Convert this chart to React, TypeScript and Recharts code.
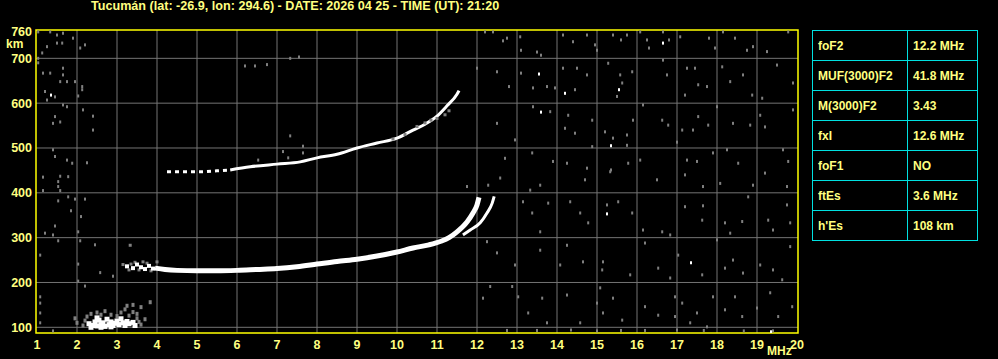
import React from 'react';
import {
  ComposedChart,
  Line,
  Scatter,
  XAxis,
  YAxis,
  CartesianGrid,
  ReferenceArea
} from 'recharts';

const YELLOW = '#ffff80';
const BORDER = '#ffff00';
const CYAN = '#00e0e0';
const GRID = '#747474';
const NOISE = '#808080';
const FONT = '"Liberation Sans", Arial, sans-serif';

// axis ticks
const freqTicks = [1, 2, 3, 4, 5, 6, 7, 8, 9, 10, 11, 12, 13, 14, 15, 16, 17, 18, 19, 20];
const heightTicks = [100, 200, 300, 400, 500, 600, 700, 760];
const gridFreqs = [2, 3, 4, 5, 6, 7, 8, 9, 10, 11, 12, 13, 14, 15, 16, 17, 18, 19];
const gridHeights = [100, 200, 300, 400, 500, 600, 700];

// F2 ordinary trace [MHz, km]
const oTrace = [
  [3.95, 232], [4.2, 229], [4.5, 227], [5.0, 226], [5.5, 226], [6.0, 227],
  [6.5, 229], [7.0, 231], [7.5, 235], [8.0, 241], [8.5, 247], [9.0, 252],
  [9.5, 259], [10.0, 268], [10.4, 277], [10.8, 284], [11.1, 292], [11.3, 300],
  [11.5, 313], [11.75, 335], [11.9, 355], [12.0, 373], [12.05, 390]
];

// F2 extraordinary trace
const xTrace = [
  [11.65, 306], [11.83, 317], [12.08, 333], [12.25, 355], [12.38, 377], [12.43, 392]
];

// second hop 2F
const twoFDotted = [
  [4.25, 447], [4.7, 447], [5.08, 447], [5.5, 449], [5.83, 451]
];
const twoFTrace = [
  [5.83, 451], [6.33, 458], [7.0, 464], [7.58, 469], [8.0, 478], [8.5, 486],
  [9.0, 500], [9.5, 511], [10.0, 522], [10.4, 540], [10.7, 553], [11.0, 571],
  [11.25, 594], [11.5, 620], [11.55, 628]
];
const twoFxGray = [
  [10.5, 548], [10.7, 556], [10.85, 562], [11.0, 566], [11.2, 574], [11.3, 583],
  [9.9, 520], [10.2, 530]
];

// sporadic E and bottom of F
const esWhite = [
  [2.3, 108], [2.4, 104], [2.45, 112], [2.5, 103], [2.55, 116], [2.6, 106],
  [2.65, 110], [2.7, 102], [2.75, 118], [2.8, 106], [2.85, 112], [2.9, 104],
  [2.95, 109], [3.0, 114], [3.05, 106], [3.1, 119], [3.15, 110], [3.2, 104],
  [3.25, 113], [3.3, 108], [3.4, 111], [3.45, 104], [2.35, 100], [2.6, 100],
  [2.85, 101], [2.5, 121]
];
const esGray = [
  [2.2, 115], [2.25, 124], [2.35, 130], [2.5, 133], [2.6, 128], [2.7, 136],
  [2.85, 128], [3.0, 125], [3.1, 133], [3.2, 140], [3.3, 126], [3.4, 134],
  [3.5, 120], [3.55, 112], [3.6, 106], [3.5, 130], [2.0, 110], [1.95, 120],
  [3.25, 148], [3.4, 150], [3.6, 145], [3.83, 156], [3.7, 118], [2.15, 104]
];
const fStartWhite = [
  [3.25, 236], [3.4, 232], [3.5, 240], [3.6, 234], [3.7, 230], [3.8, 237], [3.9, 231]
];
const fStartGray = [
  [3.15, 240], [3.3, 228], [3.45, 245], [3.55, 228], [3.75, 243], [3.85, 226],
  [4.0, 246], [3.35, 241], [3.65, 246], [3.33, 283]
];

// background noise
const noiseGray = [
  [1.03, 759], [1.33, 759], [1.5, 752], [1.65, 756], [1.9, 745], [1.25, 726],
  [1.5, 734], [1.63, 734], [2.2, 730], [2.08, 723], [1.13, 712], [1.15, 667],
  [1.33, 667], [1.65, 678], [1.65, 663], [1.75, 648], [1.58, 648], [1.2, 626],
  [1.45, 614], [1.25, 607], [1.95, 648], [2.13, 637], [2.13, 630], [2.03, 616],
  [1.65, 596], [1.75, 592], [2.15, 585], [2.4, 571], [1.45, 570], [1.4, 555],
  [1.58, 558], [2.4, 540], [1.4, 496], [1.45, 481], [1.75, 473], [1.88, 466],
  [2.25, 467], [1.15, 435], [1.58, 437], [1.53, 425], [1.53, 414], [1.78, 436],
  [1.15, 405], [1.58, 405], [1.78, 391], [1.95, 386], [2.2, 386], [1.53, 382],
  [1.85, 360], [2.1, 347], [1.45, 326], [1.2, 310], [1.4, 306], [2.03, 313],
  [1.53, 293], [2.08, 293], [2.45, 284], [1.08, 261], [2.03, 241], [2.58, 222],
  [2.9, 214], [2.03, 203], [2.2, 192], [1.08, 168], [1.08, 154], [1.08, 132],
  [1.03, 700], [1.03, 690], [1.08, 110], [1.4, 92],
  [6.2, 683], [6.45, 683], [6.75, 686], [7.33, 700], [7.55, 703], [7.33, 527],
  [7.65, 504], [7.65, 489], [6.53, 473], [7.15, 492], [7.28, 478], [11.75, 414],
  [12.2, 759], [12.4, 759], [12.65, 739], [12.75, 745], [13.08, 748], [13.1, 718],
  [13.5, 714], [13.6, 707], [14.15, 752], [14.4, 737], [14.75, 752], [14.95, 730],
  [15.0, 718], [15.4, 752], [15.6, 741], [15.75, 752], [16.08, 759], [16.25, 741],
  [16.3, 723], [16.65, 759], [16.8, 741], [17.08, 748], [17.8, 745], [17.95, 723],
  [18.15, 759], [18.45, 745], [18.75, 718], [18.9, 726], [19.25, 715], [19.78, 759],
  [12.0, 678], [12.5, 670], [12.8, 637], [13.1, 667], [13.4, 634], [13.75, 637],
  [13.95, 634], [14.15, 678], [14.5, 678], [14.75, 663], [14.45, 630], [15.28, 689],
  [15.58, 663], [15.63, 645], [15.88, 670], [15.5, 615], [16.65, 696], [16.75, 663],
  [17.25, 678], [17.45, 678], [17.53, 641], [17.75, 637], [17.2, 618], [18.13, 681],
  [18.33, 648], [18.65, 663], [18.88, 618], [19.13, 611], [19.5, 685], [19.9, 645],
  [12.5, 555], [12.95, 518], [13.4, 592], [13.83, 581], [14.28, 573], [14.45, 533],
  [14.2, 544], [14.88, 562], [15.2, 536], [15.4, 522], [15.75, 529], [15.9, 562],
  [16.15, 596], [16.63, 562], [16.78, 551], [17.0, 513], [17.13, 540], [17.4, 540],
  [17.53, 570], [17.78, 551], [18.0, 592], [18.4, 555], [18.83, 551], [19.08, 573],
  [19.2, 547], [19.9, 585],
  [12.7, 477], [13.38, 489], [13.9, 470], [14.25, 466], [14.75, 455], [14.88, 503],
  [15.35, 451], [15.75, 506], [15.78, 466], [16.08, 473], [17.25, 473], [17.5, 470],
  [17.9, 489], [18.25, 496], [18.53, 466], [19.2, 444], [19.65, 496], [19.78, 470],
  [12.28, 417], [12.58, 433], [13.33, 406], [13.58, 417], [14.7, 429], [15.33, 447],
  [16.5, 429], [17.2, 440], [17.65, 414], [18.08, 421], [18.9, 417], [19.75, 414],
  [13.15, 380], [13.38, 355], [13.58, 313], [13.78, 377], [14.33, 380], [14.58, 355],
  [14.78, 333], [15.25, 373], [15.53, 380], [15.88, 355], [16.15, 317], [16.63, 313],
  [16.83, 306], [17.2, 369], [17.63, 339], [17.65, 371], [18.2, 333], [18.33, 310],
  [18.63, 336], [18.78, 391], [19.28, 339], [19.4, 317], [19.75, 373], [19.83, 333],
  [12.25, 291], [12.5, 266], [12.95, 239], [13.58, 272], [14.08, 239], [14.25, 283],
  [14.65, 246], [15.15, 246], [15.13, 228], [15.83, 217], [16.2, 288], [16.53, 232],
  [16.83, 210], [17.03, 261], [17.63, 217], [18.0, 295], [18.2, 232], [18.4, 250],
  [18.65, 221], [19.08, 239], [19.4, 228], [19.63, 206], [19.83, 280],
  [12.15, 165], [12.33, 191], [12.88, 191], [13.03, 168], [13.28, 132], [13.63, 165],
  [13.75, 110], [14.25, 172], [14.58, 110], [15.0, 154], [15.08, 188], [15.15, 132],
  [15.4, 165], [15.63, 116], [16.2, 146], [16.53, 127], [16.95, 168], [16.95, 124],
  [17.13, 154], [17.33, 110], [17.5, 132], [17.75, 101], [17.9, 168], [18.2, 139],
  [18.45, 168], [18.63, 124], [19.0, 143], [19.33, 177], [19.53, 124], [19.88, 146],
  [12.75, 93], [13.5, 93], [14.35, 94], [15.0, 92], [15.6, 93], [17.0, 94],
  [17.67, 93], [18.67, 92], [19.4, 92], [16.2, 93]
];
const noiseWhite = [
  [1.35, 618], [16.65, 734], [13.55, 665], [14.2, 622], [15.55, 630], [13.6, 580],
  [15.35, 505], [15.25, 353], [17.35, 244], [19.35, 90]
];

const toPts = (arr: number[][]) => arr.map(([f, h]) => ({ f, h }));

const square = (w: number, h: number, fill: string) => (props: any) => {
  const { cx, cy } = props;
  if (cx == null || cy == null) return <g />;
  return <rect x={cx - w / 2} y={cy - h / 2} width={w} height={h} fill={fill} />;
};

const tableRows = [
  ['foF2', '12.2 MHz'],
  ['MUF(3000)F2', '41.8 MHz'],
  ['M(3000)F2', '3.43'],
  ['fxI', '12.6 MHz'],
  ['foF1', 'NO'],
  ['ftEs', '3.6 MHz'],
  ["h'Es", '108 km']
];

const textStyle: React.CSSProperties = {
  position: 'absolute',
  color: YELLOW,
  fontFamily: FONT,
  fontWeight: 'bold',
  fontSize: 12,
  whiteSpace: 'nowrap',
  lineHeight: '14px'
};

const Ionogram: React.FC = () => {
  const tickStyle = { fill: YELLOW, fontSize: 12.5, fontWeight: 'bold', fontFamily: FONT };
  return (
    <div style={{ position: 'fixed', left: 0, top: 0, width: 998, height: 359, background: '#000', overflow: 'hidden' }}>
      <div style={{ ...textStyle, left: 91, top: -1, fontSize: 12.6 }}>
        Tucumán (lat: -26.9, lon: 294.6) - DATE: 2026 04 25 - TIME (UT): 21:20
      </div>
      <ComposedChart width={998} height={359} margin={{ top: 30, right: 200, bottom: 0, left: 0 }}>
        <CartesianGrid
          stroke={GRID}
          horizontalValues={gridHeights}
          verticalValues={gridFreqs}
        />
        <XAxis
          type="number"
          dataKey="f"
          domain={[0.975, 20.025]}
          allowDataOverflow
          ticks={freqTicks}
          interval={0}
          tick={tickStyle}
          tickSize={0}
          tickMargin={7}
          axisLine={false}
          tickLine={false}
          height={26}
        />
        <YAxis
          type="number"
          dataKey="h"
          domain={[87.3, 763.2]}
          allowDataOverflow
          ticks={heightTicks}
          interval={0}
          tick={tickStyle}
          tickSize={0}
          tickMargin={4}
          axisLine={false}
          tickLine={false}
          width={36}
        />
        <Scatter data={toPts(noiseGray)} shape={square(2, 3, NOISE)} isAnimationActive={false} />
        <Scatter data={toPts(noiseWhite)} shape={square(2, 3, '#fff')} isAnimationActive={false} />
        <Scatter data={toPts(esGray)} shape={square(3, 4, NOISE)} isAnimationActive={false} />
        <Scatter data={toPts(esWhite)} shape={square(5, 5, '#fff')} isAnimationActive={false} />
        <Scatter data={toPts(fStartGray)} shape={square(3, 3, NOISE)} isAnimationActive={false} />
        <Scatter data={toPts(fStartWhite)} shape={square(4, 4, '#fff')} isAnimationActive={false} />
        <Scatter data={toPts(twoFxGray)} shape={square(3, 3, NOISE)} isAnimationActive={false} />
        <Line data={toPts(oTrace)} dataKey="h" type="monotone" stroke="#fff" strokeWidth={5} dot={false} isAnimationActive={false} />
        <Line data={toPts(xTrace)} dataKey="h" type="monotone" stroke="#fff" strokeWidth={3} dot={false} isAnimationActive={false} />
        <Line data={toPts(twoFDotted)} dataKey="h" type="monotone" stroke="#fff" strokeWidth={3} strokeDasharray="4 4" dot={false} isAnimationActive={false} />
        <Line data={toPts(twoFTrace)} dataKey="h" type="monotone" stroke="#fff" strokeWidth={3} dot={false} isAnimationActive={false} />
        <ReferenceArea x1={0.975} x2={20.025} y1={87.3} y2={763.2} fill="none" fillOpacity={0} stroke={BORDER} strokeWidth={1.5} ifOverflow="visible" />
      </ComposedChart>
      <div style={{ ...textStyle, left: 6, top: 37 }}>km</div>
      <div style={{ ...textStyle, left: 767, top: 344 }}>MHz</div>
      <table
        style={{
          position: 'absolute',
          left: 812,
          top: 30,
          borderCollapse: 'collapse',
          fontFamily: FONT,
          fontWeight: 'bold',
          fontSize: 12,
          color: YELLOW
        }}
      >
        <tbody>
          {tableRows.map(([k, v]) => (
            <tr key={k} style={{ height: 30 }}>
              <td style={{ border: `1px solid ${CYAN}`, width: 89, padding: '0 0 0 5px' }}>{k}</td>
              <td style={{ border: `1px solid ${CYAN}`, width: 64, padding: '0 0 0 5px' }}>{v}</td>
            </tr>
          ))}
        </tbody>
      </table>
    </div>
  );
};

export default function App() {
  return <Ionogram />;
}
